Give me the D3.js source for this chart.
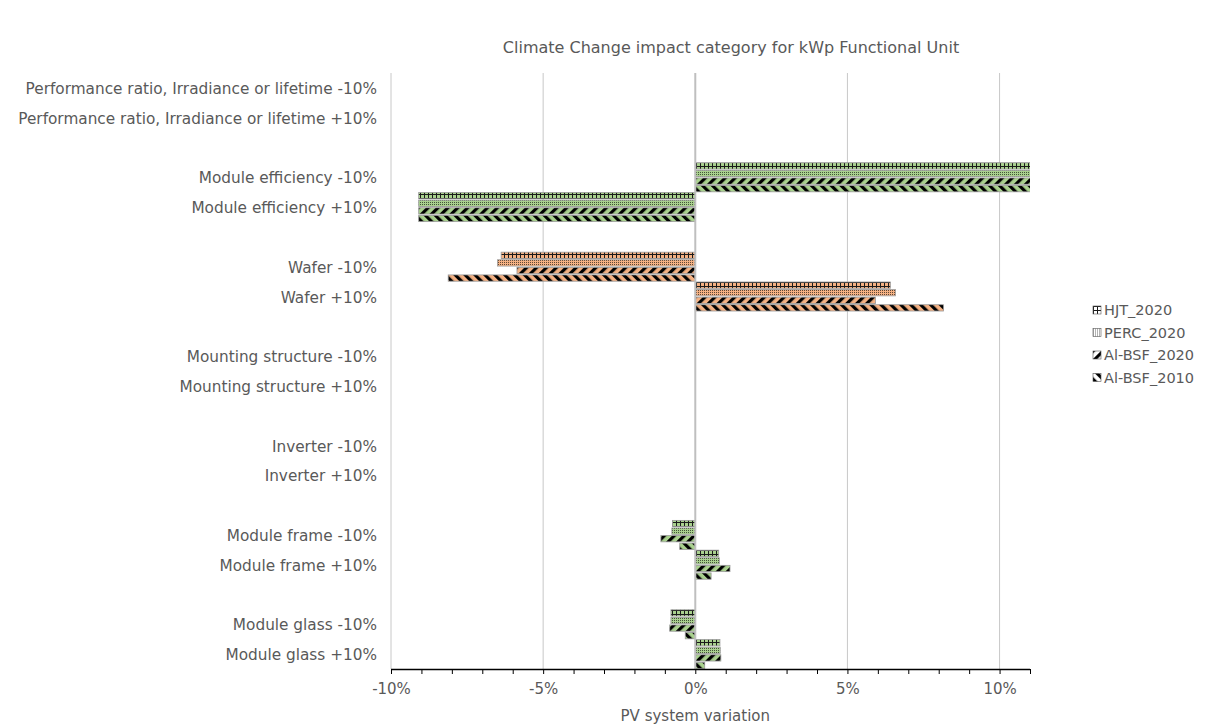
<!DOCTYPE html>
<html>
<head>
<meta charset="utf-8">
<script src="https://cdn.jsdelivr.net/npm/d3@7"></script>
<style>
  body { margin: 0; background: #fff; }
  svg { display: block; }
  text { font-family: "DejaVu Sans", sans-serif; fill: #595959; }
</style>
</head>
<body>
<svg id="chart" width="1205" height="726"></svg>
<script>
// ---- data ----
const categories = [
  "Performance ratio, Irradiance or lifetime -10%",
  "Performance ratio, Irradiance or lifetime +10%",
  "",
  "Module efficiency -10%",
  "Module efficiency +10%",
  "",
  "Wafer -10%",
  "Wafer +10%",
  "",
  "Mounting structure -10%",
  "Mounting structure +10%",
  "",
  "Inverter -10%",
  "Inverter +10%",
  "",
  "Module frame -10%",
  "Module frame +10%",
  "",
  "Module glass -10%",
  "Module glass +10%"
];
const categoryGroup = ["none","none","none","green","green","none","orange","orange","none","green","green","none","green","green","none","green","green","none","green","green"];
const seriesNames = ["HJT_2020", "PERC_2020", "Al-BSF_2020", "Al-BSF_2010"];
const hjt2020    = [null, null, null, 11.1, -9.09, null, -6.38, 6.41, null, 0, 0, null, 0, 0, null, -0.75, 0.77, null, -0.80, 0.81];
const perc2020   = [null, null, null, 11.1, -9.09, null, -6.50, 6.58, null, 0, 0, null, 0, 0, null, -0.77, 0.79, null, -0.80, 0.82];
const albsf2020  = [null, null, null, 11.1, -9.09, null, -5.86, 5.92, null, 0, 0, null, 0, 0, null, -1.13, 1.14, null, -0.84, 0.84];
const albsf2010  = [null, null, null, 11.1, -9.09, null, -8.12, 8.16, null, 0, 0, null, 0, 0, null, -0.51, 0.52, null, -0.33, 0.31];
const seriesValues = [hjt2020, perc2020, albsf2020, albsf2010];
const majorTicks = [-10, -5, 0, 5, 10];
const xDomain = [-10, 11];

// ---- layout ----
const svg = d3.select("#chart");
const plot = { left: 391, right: 1030, top: 73, bottom: 669 };
const x = d3.scaleLinear().domain(xDomain).range([plot.left, plot.right]);
const y = d3.scaleBand().domain(d3.range(categories.length)).range([plot.top, plot.bottom]).paddingInner(0).paddingOuter(0);
const ySub = d3.scaleBand().domain(d3.range(seriesNames.length)).range([0, y.bandwidth()]).paddingInner(0.17).paddingOuter(0.05);

const fills = { green: "#a9d18e", orange: "#f4b183", none: "#a9d18e" };

// ---- patterns ----
const defs = svg.append("defs");
function makePatterns(key, bg) {
  // HJT: grid
  let p = defs.append("pattern").attr("id", `p0-${key}`).attr("patternUnits", "userSpaceOnUse").attr("width", 4).attr("height", 4);
  p.append("rect").attr("width", 4).attr("height", 4).attr("fill", bg);
  p.append("rect").attr("x", 0).attr("y", 0).attr("width", 1).attr("height", 4).attr("fill", "#1a1a1a");
  p.append("rect").attr("x", 0).attr("y", 2).attr("width", 4).attr("height", 1).attr("fill", "#1a1a1a");
  // PERC: dotted
  p = defs.append("pattern").attr("id", `p1-${key}`).attr("patternUnits", "userSpaceOnUse").attr("width", 2).attr("height", 2);
  p.append("rect").attr("width", 2).attr("height", 2).attr("fill", bg);
  p.append("rect").attr("x", 0).attr("y", 0).attr("width", 1).attr("height", 1).attr("fill", "#000").attr("opacity", 0.6);
  // Al-BSF 2020: wide upward diagonal
  p = defs.append("pattern").attr("id", `p2-${key}`).attr("patternUnits", "userSpaceOnUse").attr("width", 7).attr("height", 7)
    .attr("patternTransform", "rotate(45)");
  p.append("rect").attr("width", 7).attr("height", 7).attr("fill", bg);
  p.append("rect").attr("x", 0).attr("y", 0).attr("width", 3.2).attr("height", 7).attr("fill", "#000");
  // Al-BSF 2010: wide downward diagonal
  p = defs.append("pattern").attr("id", `p3-${key}`).attr("patternUnits", "userSpaceOnUse").attr("width", 7).attr("height", 7)
    .attr("patternTransform", "rotate(-45)");
  p.append("rect").attr("width", 7).attr("height", 7).attr("fill", bg);
  p.append("rect").attr("x", 0).attr("y", 0).attr("width", 3.2).attr("height", 7).attr("fill", "#000");
}
makePatterns("green", fills.green);
makePatterns("orange", fills.orange);
makePatterns("legend", "#ffffff");

defs.append("clipPath").attr("id", "plotclip").append("rect")
  .attr("x", plot.left).attr("y", plot.top - 2).attr("width", plot.right - plot.left).attr("height", plot.bottom - plot.top + 4);

// ---- title ----
svg.append("text").attr("x", 731).attr("y", 53).attr("text-anchor", "middle")
  .style("font-size", "16px").text("Climate Change impact category for kWp Functional Unit");

// ---- gridlines ----
svg.append("g").selectAll("line").data(majorTicks.filter(d => d !== 0)).join("line")
  .attr("x1", d => x(d)).attr("x2", d => x(d)).attr("y1", plot.top).attr("y2", plot.bottom)
  .attr("stroke", "#c8c8c8").attr("stroke-width", 1);

// ---- bars ----
const barsG = svg.append("g").attr("clip-path", "url(#plotclip)");
seriesValues.forEach((vals, si) => {
  barsG.append("g").selectAll("rect")
    .data(vals.map((v, i) => ({ v, i })).filter(d => d.v !== null && d.v !== 0))
    .join("rect")
    .attr("x", d => Math.min(x(0), x(d.v)))
    .attr("width", d => Math.abs(x(d.v) - x(0)))
    .attr("y", d => y(d.i) + ySub(si))
    .attr("height", ySub.bandwidth())
    .attr("fill", d => `url(#p${si}-${categoryGroup[d.i]})`)
    .attr("stroke", "#9a9a9a").attr("stroke-width", 0.8);
});

// ---- zero (category) axis line ----
svg.append("line").attr("x1", x(0)).attr("x2", x(0)).attr("y1", plot.top).attr("y2", plot.bottom)
  .attr("stroke", "#bfbfbf").attr("stroke-width", 2);

// ---- category labels ----
svg.append("g").selectAll("text").data(categories.map((c, i) => ({ c, i })).filter(d => d.c)).join("text")
  .attr("x", 377).attr("y", d => y(d.i) + y.bandwidth() / 2 + 6)
  .attr("text-anchor", "end").style("font-size", "15.3px").text(d => d.c);

// ---- x axis ----
const xAxis = d3.axisBottom(x).tickValues(d3.range(xDomain[0], xDomain[1] + 1, 1))
  .tickSize(5).tickFormat(d => majorTicks.includes(d) ? d + "%" : "");
const ax = svg.append("g").attr("transform", `translate(0,${plot.bottom})`).call(xAxis);
ax.select(".domain").attr("stroke", "#000").attr("stroke-width", 1.3).attr("d", `M${plot.left},0.5H${plot.right}`);
ax.selectAll(".tick line").attr("stroke", "#000");
ax.selectAll(".tick text").attr("dy", "0.55em").attr("y", 17).style("font-size", "15px").attr("fill", "#595959")
  .style("font-family", '"DejaVu Sans", sans-serif');

svg.append("text").attr("x", x(0)).attr("y", 721).attr("text-anchor", "middle")
  .style("font-size", "15px").text("PV system variation");

// ---- legend ----
const lg = svg.append("g").attr("transform", "translate(1093,304)");
seriesNames.forEach((n, i) => {
  const g = lg.append("g").attr("transform", `translate(0,${i * 22.5})`);
  g.append("rect").attr("x", 0).attr("y", 2).attr("width", 8).attr("height", 8)
    .attr("fill", `url(#p${i}-legend)`).attr("stroke", "#555").attr("stroke-width", 0.6);
  g.append("text").attr("x", 11).attr("y", 11).style("font-size", "14.5px").text(n);
});
</script>
</body>
</html>
